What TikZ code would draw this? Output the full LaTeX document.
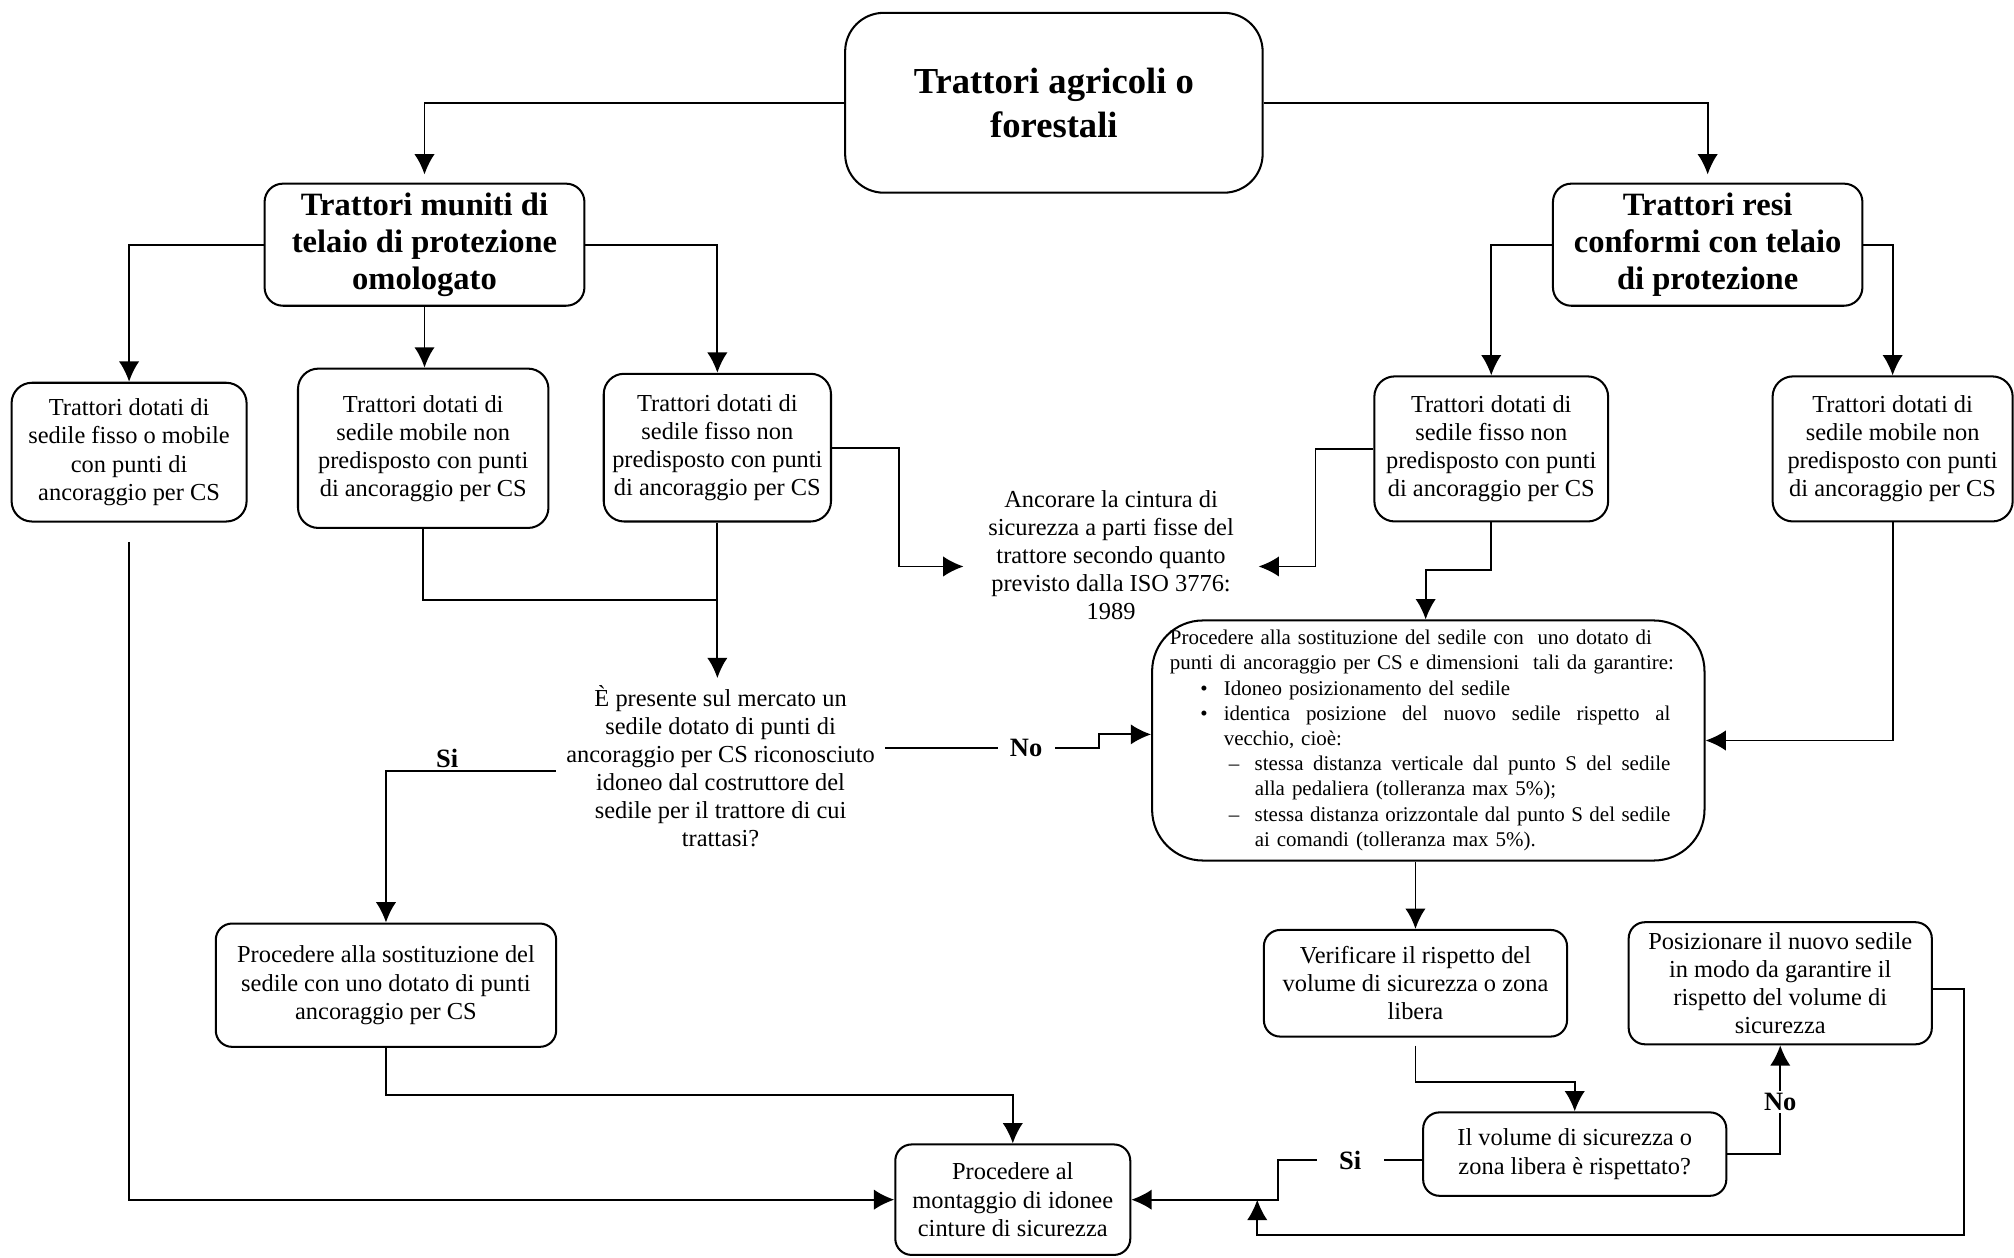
\documentclass[tikz,border=0pt]{standalone}
\usepackage{fontspec}
\setmainfont{Liberation Serif}
\usetikzlibrary{positioning,arrows.meta}

\begin{document}
\begin{tikzpicture}[
        % define styles
        x=0.6313pt, y=-0.6313pt,
        cell/.style={
            draw,
            line width=1pt,
            rounded corners=10pt,
            align=center,
            inner sep=2pt,
            font=\fontsize{12}{13.8}\selectfont
        },
        headcell/.style={
            cell,
            rounded corners=9pt,
            font=\fontsize{16}{18.3}\selectfont\bfseries
        },
        rootcell/.style={
            cell,
            rounded corners=19pt,
            font=\fontsize{18}{21.5}\selectfont\bfseries
        },
        note/.style={
            align=center,
            inner xsep=12pt,
            font=\fontsize{12}{13.8}\selectfont
        },
        answer/.style={
            inner sep=1pt,
            font=\fontsize{13}{15}\selectfont\bfseries
        },
        link/.style={line width=0.9pt},
        >={Latex[length=10pt,width=10pt]}
    ]
    \useasboundingbox (0,0) rectangle (1568,979);

    % top level and the two families of tractors
    \node[rootcell, minimum width=205.2pt, minimum height=88.4pt] (root) at (820.5,80)
        {Trattori agricoli o\\forestali};
    \node[headcell, minimum width=157.2pt, minimum height=60pt] (omol) at (330.5,190.5)
        {Trattori muniti di\\telaio di protezione\\omologato};
    \node[headcell, minimum width=152.1pt, minimum height=60pt] (conf) at (1329.5,190.5)
        {Trattori resi\\conformi con telaio\\di protezione};

    % seat types
    \node[cell, minimum width=115.5pt, minimum height=68.2pt] (fissomob) at (100.5,352)
        {Trattori dotati di\\sedile fisso o mobile\\con punti di\\ancoraggio per CS};
    \node[cell, minimum width=123.1pt, minimum height=78.3pt] (mobL) at (329.5,349)
        {Trattori dotati di\\sedile mobile non\\predisposto con punti\\di ancoraggio per CS};
    \node[cell, minimum width=111.7pt, minimum height=72.6pt] (fissoL) at (558.5,348.5)
        {Trattori dotati di\\sedile fisso non\\predisposto con punti\\di ancoraggio per CS};
    \node[cell, minimum width=114.9pt, minimum height=71.3pt] (fissoR) at (1161,349.5)
        {Trattori dotati di\\sedile fisso non\\predisposto con punti\\di ancoraggio per CS};
    \node[cell, minimum width=118pt, minimum height=71.3pt] (mobR) at (1473.5,349.5)
        {Trattori dotati di\\sedile mobile non\\predisposto con punti\\di ancoraggio per CS};

    % free texts
    \node[note] (iso) at (865,432)
        {Ancorare la cintura di\\sicurezza a parti fisse del\\trattore secondo quanto\\previsto dalla ISO 3776:\\1989};
    \node[note, inner xsep=5pt] (quest) at (561,596.5)
        {È presente sul mercato un\\sedile dotato di punti di\\ancoraggio per CS riconosciuto\\idoneo dal costruttore del\\sedile per il trattore di cui\\trattasi?};

    % seat replacement with list of requirements
    \node[cell, rounded corners=25pt, minimum width=271.5pt, minimum height=118pt,
          text width=254pt, align=left, font=\fontsize{10.3}{12.4}\selectfont] (sost) at (1112,576.5) {%
        Procedere alla sostituzione del sedile con\ \ uno dotato di\\
        punti di ancoraggio per CS e dimensioni\ \ tali da garantire:\\
        \hspace*{15pt}\makebox[11.5pt][l]{\textbullet}Idoneo posizionamento del sedile\\
        \hspace*{15pt}\makebox[11.5pt][l]{\textbullet}\hbox to 219.5pt{identica\hfill posizione\hfill del\hfill nuovo\hfill sedile\hfill rispetto\hfill al}\\
        \hspace*{26.5pt}vecchio, cioè:\\
        \hspace*{29pt}\makebox[12.7pt][l]{--}\hbox to 204.3pt{stessa\hfill distanza\hfill verticale\hfill dal\hfill punto\hfill S\hfill del\hfill sedile}\\
        \hspace*{41.7pt}alla pedaliera (tolleranza max 5\%);\\
        \hspace*{29pt}\makebox[12.7pt][l]{--}\hbox to 204.3pt{stessa\hfill distanza\hfill orizzontale\hfill dal\hfill punto\hfill S\hfill del\hfill sedile}\\
        \hspace*{41.7pt}ai comandi (tolleranza max 5\%).};

    % lower boxes
    \node[cell, rounded corners=8pt, minimum width=167.3pt, minimum height=60.6pt] (sostL) at (300.5,767)
        {Procedere alla sostituzione del\\sedile con uno dotato di punti\\ancoraggio per CS};
    \node[cell, rounded corners=8pt, minimum width=149pt, minimum height=52.4pt] (verif) at (1102,765.5)
        {Verificare il rispetto del\\volume di sicurezza o zona\\libera};
    \node[cell, rounded corners=8pt, minimum width=149pt, minimum height=60pt] (posiz) at (1386,765.5)
        {Posizionare il nuovo sedile\\in modo da garantire il\\rispetto del volume di\\sicurezza};
    \node[cell, rounded corners=8pt, minimum width=149pt, minimum height=41pt] (volume) at (1226,898.5)
        {Il volume di sicurezza o\\zona libera è rispettato?};
    \node[cell, rounded corners=8pt, minimum width=115.5pt, minimum height=54.3pt] (montag) at (788.5,934)
        {Procedere al\\montaggio di idonee\\cinture di sicurezza};

    % root to the two families
    \foreach \side/\fam in {west/omol, east/conf}
        \draw[link,->,shorten >=4pt] (root.\side) -| (\fam.north);

    % families to the seat types
    \draw[link,->] (omol.west) -| (fissomob.north);
    \draw[link,->] (omol.south) -- (omol.south |- mobL.north);
    \draw[link,->] (omol.east) -| (fissoL.north);
    \draw[link,->] (conf.west) -| (fissoR.north);
    \draw[link,->] (conf.east) -| (mobR.north);

    % seat already with anchor points
    \draw[link,->,shorten <=9.5pt] (fissomob.south) |- (montag.west);

    % left seats without anchor points to the question
    \coordinate (merge) at (fissoL.south |- 0,467);
    \draw[link] (mobL.south) |- (merge);
    \draw[link,->] (fissoL.south) -- (fissoL.south |- quest.north);

    % fixed seats to the ISO note
    \draw[link,->] (fissoL.east) -- ++(52,0) |- ([yshift=-5.7pt]iso.west);
    \draw[link,->] (fissoR.west) -- ++(-45,0) |- ([yshift=-5.7pt]iso.east);

    % right seats to the replacement
    \draw[link,->] (fissoR.south) -- ++(0,37) -| ([xshift=-1.3pt]sost.north);
    \draw[link,->] (mobR.south) |- (sost.east);

    % answers to the question
    \draw[link,->] ([yshift=-2.2pt]quest.west) -| node[pos=0.32,above,answer] {Si} (sostL.north);
    \draw[link,->] ([yshift=8.8pt]quest.east) -- node[pos=0.66,answer,fill=white,inner xsep=6pt] {No} ++(166,0)
        |- ([yshift=3pt]sost.west);

    % replacement done
    \draw[link,->] (sostL.south) -- ++(0,37) -| (montag.north);

    % check of the safety volume
    \draw[link,->] (sost.south -| verif.north) -- (verif.north);
    \draw[link,->,shorten <=4pt] (verif.south) -- ++(0,34.5) -| (volume.north);
    \draw[link,->] (volume.east) -| node[pos=0.74,answer,fill=white] {No} (posiz.south);
    \draw[link,->] ([yshift=-3pt]volume.west) -- node[answer,fill=white,inner xsep=11pt] {Si} ++(-112,0)
        |- (montag.east);

    % reposition, then back to the end
    \coordinate (rejoin) at ([xshift=61.9pt]montag.east);
    \draw[link,->] ([yshift=-3pt]posiz.east) -- ++(24,0) -- ++(0,191) -| (rejoin);
\end{tikzpicture}
\end{document}
